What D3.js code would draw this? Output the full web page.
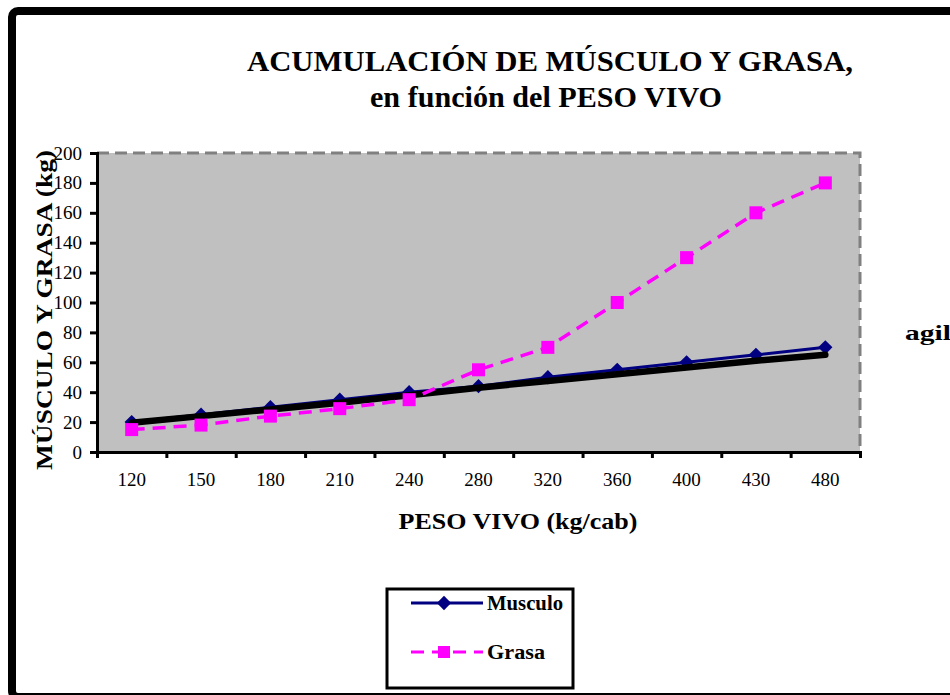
<!DOCTYPE html>
<html>
<head>
<meta charset="utf-8">
<script src="https://cdn.jsdelivr.net/npm/d3@7"></script>
<style>
  body { margin: 0; background: #fff; }
  svg { display: block; font-family: "Liberation Serif", "Times New Roman", serif; }
</style>
</head>
<body>
<div id="chart"></div>
<script>
const pesos = ['120', '150', '180', '210', '240', '280', '320', '360', '400', '430', '480']
const musculo = [20, 25, 30, 35, 40, 44, 50, 55, 60, 65, 70]
const grasa = [15, 18, 24, 29, 35, 55, 70, 100, 130, 160, 180]
// tendencia lineal (Musculo)
const tendencia = [19.5, 24, 28.5, 33, 38, 43, 47.5, 52, 56.5, 61, 65]
const yTicks = [0, 20, 40, 60, 80, 100, 120, 140, 160, 180, 200]

const W = 950, H = 695
const margin = { top: 153, right: 90, bottom: 243, left: 97 }
const width = W - margin.left - margin.right
const height = H - margin.top - margin.bottom

const svg = d3.select('#chart').append('svg')
    .attr('width', W)
    .attr('height', H)

// marco exterior
svg.append('rect')
    .attr('x', 12).attr('y', 11)
    .attr('width', 1000).attr('height', 686)
    .attr('rx', 6)
    .attr('fill', 'none')
    .attr('stroke', '#000')
    .attr('stroke-width', 8)

// titulo
const title = svg.append('text')
    .attr('text-anchor', 'middle')
    .attr('font-weight', 'bold')
    .attr('font-size', 30)
    .attr('lengthAdjust', 'spacingAndGlyphs')
title.append('tspan').attr('x', 550).attr('y', 71)
    .attr('textLength', 606).attr('lengthAdjust', 'spacingAndGlyphs')
    .text('ACUMULACIÓN DE MÚSCULO Y GRASA,')
title.append('tspan').attr('x', 546).attr('y', 107)
    .attr('textLength', 352).attr('lengthAdjust', 'spacingAndGlyphs')
    .text('en función del PESO VIVO')

const g = svg.append('g')
    .attr('transform', 'translate(' + margin.left + ',' + margin.top + ')')

const x = d3.scaleBand().domain(pesos).range([0, width]).padding(0)
const xEdge = d3.scaleLinear().domain([0, pesos.length]).range([0, width])
const y = d3.scaleLinear().domain([0, 200]).range([height, 0])

g.append('rect')
    .attr('width', width)
    .attr('height', height)
    .attr('fill', '#c0c0c0')

// bordes punteados arriba y a la derecha
g.append('path')
    .attr('d', 'M0,0H' + width + 'V' + height)
    .attr('fill', 'none')
    .attr('stroke', '#808080')
    .attr('stroke-width', 3)
    .attr('stroke-dasharray', '12,6')

// eje y
const yAxis = g.append('g')
    .call(d3.axisLeft(y).tickValues(yTicks).tickSize(7).tickPadding(8))
yAxis.select('.domain').attr('stroke-width', 3)
yAxis.selectAll('.tick line').attr('stroke-width', 3)
yAxis.selectAll('text')
    .attr('font-family', '"Liberation Serif", serif')
    .attr('font-size', 19)
    .attr('fill', '#000')

// eje x: marcas en los limites de las categorias
const xTicks = g.append('g')
    .attr('transform', 'translate(0,' + height + ')')
    .call(d3.axisBottom(xEdge).ticks(pesos.length).tickSize(6).tickFormat(''))
xTicks.select('.domain').attr('stroke-width', 3)
xTicks.selectAll('.tick line').attr('stroke-width', 3)

const xLabels = g.append('g')
    .attr('transform', 'translate(0,' + height + ')')
    .call(d3.axisBottom(x).tickSize(0).tickPadding(21))
xLabels.select('.domain').remove()
xLabels.selectAll('text')
    .attr('font-family', '"Liberation Serif", serif')
    .attr('font-size', 19)
    .attr('fill', '#000')

const cx = (d, i) => x(pesos[i]) + x.bandwidth() / 2

// Musculo
g.append('path')
    .datum(musculo)
    .attr('fill', 'none')
    .attr('stroke', '#000080')
    .attr('stroke-width', 3)
    .attr('d', d3.line().x(cx).y(d => y(d)))

g.selectAll('.diamante')
    .data(musculo)
    .enter().append('path')
    .attr('class', 'diamante')
    .attr('transform', (d, i) => 'translate(' + cx(d, i) + ',' + y(d) + ')')
    .attr('d', d3.symbol(d3.symbolDiamond2, 130))
    .attr('fill', '#000080')

// tendencia
g.append('path')
    .datum(tendencia)
    .attr('fill', 'none')
    .attr('stroke', '#000')
    .attr('stroke-width', 6.5)
    .attr('stroke-linecap', 'round')
    .attr('d', d3.line().x(cx).y(d => y(d)))

// Grasa
g.append('path')
    .datum(grasa)
    .attr('fill', 'none')
    .attr('stroke', '#ff00ff')
    .attr('stroke-width', 3.5)
    .attr('stroke-dasharray', '13,8')
    .attr('d', d3.line().x(cx).y(d => y(d)))

g.selectAll('.cuadro')
    .data(grasa)
    .enter().append('rect')
    .attr('class', 'cuadro')
    .attr('x', (d, i) => cx(d, i) - 6.5)
    .attr('y', d => y(d) - 6.5)
    .attr('width', 13)
    .attr('height', 13)
    .attr('fill', '#ff00ff')

// titulos de ejes
svg.append('text')
    .attr('x', 518).attr('y', 529)
    .attr('text-anchor', 'middle')
    .attr('font-weight', 'bold')
    .attr('font-size', 23)
    .attr('textLength', 239)
    .attr('lengthAdjust', 'spacingAndGlyphs')
    .text('PESO VIVO  (kg/cab)')

svg.append('text')
    .attr('transform', 'translate(52,' + 310 + ') rotate(-90)')
    .attr('text-anchor', 'middle')
    .attr('font-weight', 'bold')
    .attr('font-size', 24)
    .attr('textLength', 320)
    .attr('lengthAdjust', 'spacingAndGlyphs')
    .text('MÚSCULO Y GRASA (kg)')

svg.append('text')
    .attr('x', 905).attr('y', 340)
    .attr('font-weight', 'bold')
    .attr('font-size', 22)
    .attr('textLength', 46)
    .attr('lengthAdjust', 'spacingAndGlyphs')
    .text('agil')

// leyenda
const leg = svg.append('g').attr('transform', 'translate(387,589)')
leg.append('rect')
    .attr('width', 186).attr('height', 99)
    .attr('fill', '#fff')
    .attr('stroke', '#000')
    .attr('stroke-width', 3)

leg.append('line')
    .attr('x1', 24).attr('x2', 96).attr('y1', 14).attr('y2', 14)
    .attr('stroke', '#000080').attr('stroke-width', 3)
leg.append('path')
    .attr('transform', 'translate(57,14)')
    .attr('d', d3.symbol(d3.symbolDiamond2, 130))
    .attr('fill', '#000080')
leg.append('text')
    .attr('x', 100).attr('y', 21)
    .attr('font-weight', 'bold').attr('font-size', 20)
    .attr('textLength', 76).attr('lengthAdjust', 'spacingAndGlyphs')
    .text('Musculo')

leg.append('line')
    .attr('x1', 24).attr('x2', 96).attr('y1', 63).attr('y2', 63)
    .attr('stroke', '#ff00ff').attr('stroke-width', 3)
    .attr('stroke-dasharray', '13,8')
leg.append('rect')
    .attr('x', 51).attr('y', 57).attr('width', 12).attr('height', 12)
    .attr('fill', '#ff00ff')
leg.append('text')
    .attr('x', 100).attr('y', 70)
    .attr('font-weight', 'bold').attr('font-size', 20)
    .attr('textLength', 58).attr('lengthAdjust', 'spacingAndGlyphs')
    .text('Grasa')
</script>
</body>
</html>
